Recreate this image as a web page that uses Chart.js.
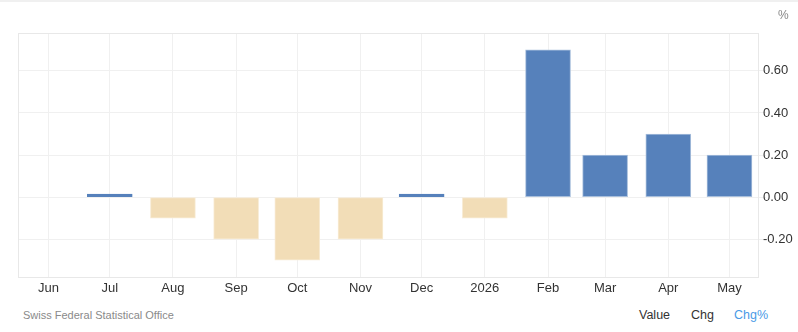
<!DOCTYPE html>
<html>
<head>
<meta charset="utf-8">
<script src="https://cdn.jsdelivr.net/npm/chart.js@4.4.1/dist/chart.umd.min.js"></script>
<style>
    body { margin: 0; background: #fff; font-family: "Liberation Sans", Arial, sans-serif; }
    .wrap { position: relative; width: 798px; height: 332px; border-top: 2px solid #f0f0f0; box-sizing: border-box; }
    #chartBox { position: absolute; left: 0; top: -2px; width: 798px; height: 300px; }
    .unit { position: absolute; left: 778px; top: 6px; font-size: 12px; color: #888; }
    .source { position: absolute; left: 23px; top: 307px; font-size: 11px; color: #8a8a8a; }
    .tabs { position: absolute; top: 306px; font-size: 12.5px; color: #333; }
</style>
</head>
<body>
<div class="wrap">
    <div id="chartBox"><canvas id="cpiChart"></canvas></div>
    <div class="unit">%</div>
    <div class="source">Swiss Federal Statistical Office</div>
    <div class="tabs" style="left:639px">Value</div>
    <div class="tabs" style="left:691px">Chg</div>
    <div class="tabs" style="left:734px; color:#4a9ae6">Chg%</div>
</div>
<script>
// Month ticks, as days since Jun 1 2025
const TICK_DAYS = [0, 30, 61, 92, 122, 153, 183, 214, 245, 273, 304, 334];
const TICK_LABELS = ['Jun', 'Jul', 'Aug', 'Sep', 'Oct', 'Nov', 'Dec', '2026', 'Feb', 'Mar', 'Apr', 'May'];

// Monthly change, % (Jul 2025 .. May 2026)
const BAR_DAYS = [30, 61, 92, 122, 153, 183, 214, 245, 273, 304, 334];
const BAR_VALUES = [0.01, -0.10, -0.20, -0.30, -0.20, 0.01, -0.10, 0.70, 0.20, 0.30, 0.20];
const Y_TICKS = [-0.2, 0, 0.2, 0.4, 0.6];

const BLUE = '#5681bb';
const BEIGE = '#f2ddb7';

// Light frame round the plot area
const frame = {
    id: 'frame',
    beforeDatasetsDraw: (chart) => {
        const { ctx, chartArea: { left, right, top, bottom } } = chart;
        ctx.save();
        ctx.strokeStyle = '#e8e8e8';
        ctx.lineWidth = 1;
        ctx.strokeRect(left + 0.5, top + 0.5, right - left, bottom - top);
        ctx.restore();
    }
};

const points = BAR_DAYS.map((d, i) => ({ x: d, y: BAR_VALUES[i] }));

new Chart(document.getElementById('cpiChart').getContext('2d'), {
    type: 'bar',
    data: {
        datasets: [{
            data: points,
            backgroundColor: BAR_VALUES.map(v => v >= 0 ? BLUE : BEIGE),
            borderColor: BAR_VALUES.map(v => Math.abs(v) < 0.05 ? BLUE : (v >= 0 ? '#a8bfdc' : '#f8ecd6')),
            borderWidth: 1,
            borderSkipped: false,
            barThickness: 45,
            minBarLength: 3
        }]
    },
    options: {
        responsive: true,
        maintainAspectRatio: false,
        animation: false,
        layout: { padding: { left: 18, top: 33, right: 0, bottom: 0 } },
        plugins: {
            legend: { display: false },
            tooltip: { enabled: false }
        },
        scales: {
            x: {
                type: 'linear',
                offset: false,
                min: -15,
                max: 348,
                afterBuildTicks: (axis) => { axis.ticks = TICK_DAYS.map(v => ({ value: v })); },
                afterFit: (axis) => { axis.height = 23; },
                grid: { color: '#f0f0f0', drawTicks: false, offset: false },
                border: { display: false },
                ticks: {
                    color: '#333',
                    padding: 4,
                    maxRotation: 0,
                    autoSkip: false,
                    font: { family: 'Liberation Sans', size: 13 },
                    callback: (value) => TICK_LABELS[TICK_DAYS.indexOf(value)]
                }
            },
            y: {
                position: 'right',
                min: -0.38,
                max: 0.78,
                afterBuildTicks: (axis) => { axis.ticks = Y_TICKS.map(v => ({ value: v })); },
                afterFit: (axis) => { axis.width = 40; },
                grid: { color: '#f0f0f0', tickLength: 8 },
                border: { display: false },
                ticks: {
                    color: '#333',
                    padding: -3,
                    font: { family: 'Liberation Sans', size: 13 },
                    callback: (value) => value.toFixed(2)
                }
            }
        }
    },
    plugins: [frame]
});
</script>
</body>
</html>
